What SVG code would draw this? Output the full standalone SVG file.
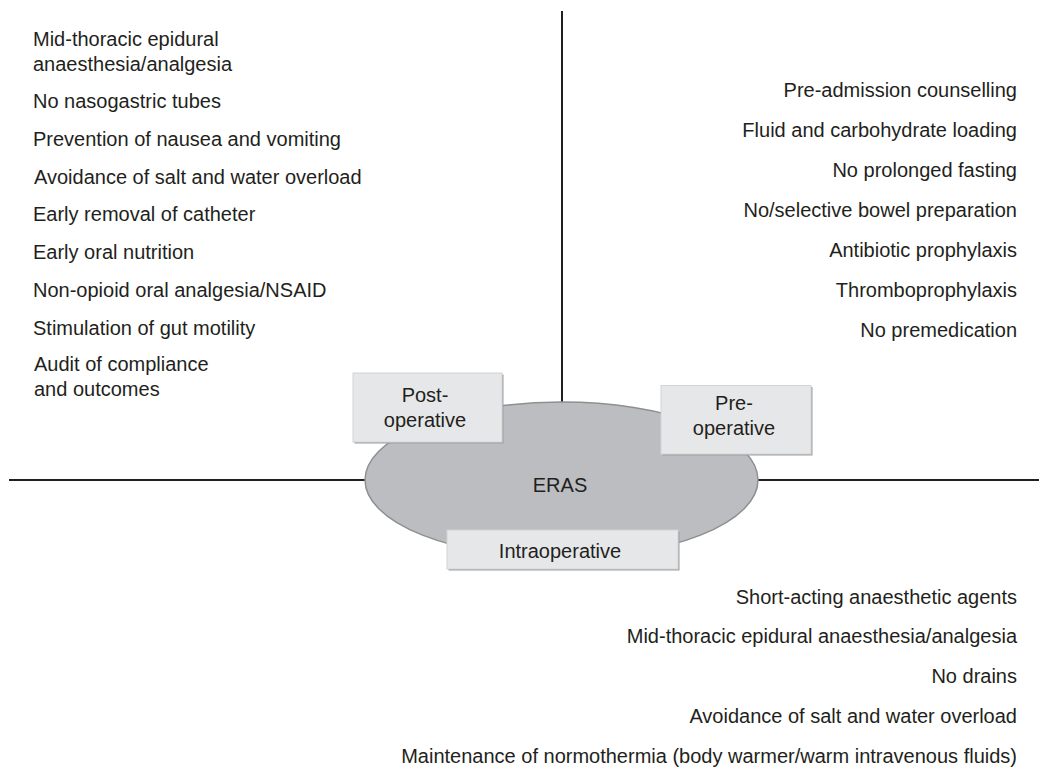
<svg xmlns="http://www.w3.org/2000/svg" width="1039" height="773" viewBox="0 0 1039 773">
<style>
.t{font-family:"Liberation Sans",Arial,sans-serif;font-size:20px;fill:#231f20}
.r{text-anchor:end}
.c{text-anchor:middle}
.ln{stroke:#231f20;stroke-width:2;fill:none}
.box{fill:#e6e7e8;stroke:#d3d4d6;stroke-width:1}
.sh{fill:#9d9ea0}
</style>
<rect width="1039" height="773" fill="#ffffff"/>
<g id="connectors">
<line class="ln" x1="562" y1="11" x2="562" y2="403"/>
<line class="ln" x1="9" y1="480" x2="366" y2="480"/>
<line class="ln" x1="757" y1="480" x2="1039" y2="480"/>
</g>
<g id="eras">
<ellipse cx="561.5" cy="480" rx="196.5" ry="78" fill="#bcbdc0" stroke="#8e8f91" stroke-width="1.5"/>
<text class="t c" x="560" y="492" font-size="18">ERAS</text>
</g>
<g id="postoperative">
<rect class="sh" x="354.5" y="374.5" width="149" height="69"/>
<rect class="box" x="353" y="373" width="149" height="69"/>
<text class="t c" x="425" y="402">Post-</text>
<text class="t c" x="425" y="427">operative</text>
</g>
<g id="preoperative">
<rect class="sh" x="662.5" y="387" width="150" height="68.5"/>
<rect class="box" x="661" y="385.5" width="150" height="68.5"/>
<text class="t c" x="734" y="410">Pre-</text>
<text class="t c" x="734" y="435">operative</text>
</g>
<g id="intraoperative">
<rect class="sh" x="448.5" y="531.5" width="231" height="39"/>
<rect class="box" x="447" y="530" width="231" height="39"/>
<text class="t c" x="560" y="558">Intraoperative</text>
</g>
<g id="postoperative-items">
<text class="t" x="33" y="46">Mid-thoracic epidural</text>
<text class="t" x="33" y="71">anaesthesia/analgesia</text>
<text class="t" x="33" y="108">No nasogastric tubes</text>
<text class="t" x="33" y="146">Prevention of nausea and vomiting</text>
<text class="t" x="34" y="184">Avoidance of salt and water overload</text>
<text class="t" x="33" y="221">Early removal of catheter</text>
<text class="t" x="33" y="259">Early oral nutrition</text>
<text class="t" x="33" y="297">Non-opioid oral analgesia/NSAID</text>
<text class="t" x="33" y="335">Stimulation of gut motility</text>
<text class="t" x="34" y="371">Audit of compliance</text>
<text class="t" x="34" y="396">and outcomes</text>
</g>
<g id="preoperative-items">
<text class="t r" x="1017" y="97">Pre-admission counselling</text>
<text class="t r" x="1017" y="137">Fluid and carbohydrate loading</text>
<text class="t r" x="1017" y="177">No prolonged fasting</text>
<text class="t r" x="1017" y="217">No/selective bowel preparation</text>
<text class="t r" x="1017" y="257">Antibiotic prophylaxis</text>
<text class="t r" x="1017" y="297">Thromboprophylaxis</text>
<text class="t r" x="1017" y="337">No premedication</text>
</g>
<g id="intraoperative-items">
<text class="t r" x="1017" y="604">Short-acting anaesthetic agents</text>
<text class="t r" x="1017" y="643">Mid-thoracic epidural anaesthesia/analgesia</text>
<text class="t r" x="1017" y="683">No drains</text>
<text class="t r" x="1017" y="723">Avoidance of salt and water overload</text>
<text class="t r" x="1017" y="763">Maintenance of normothermia (body warmer/warm intravenous fluids)</text>
</g>
</svg>
